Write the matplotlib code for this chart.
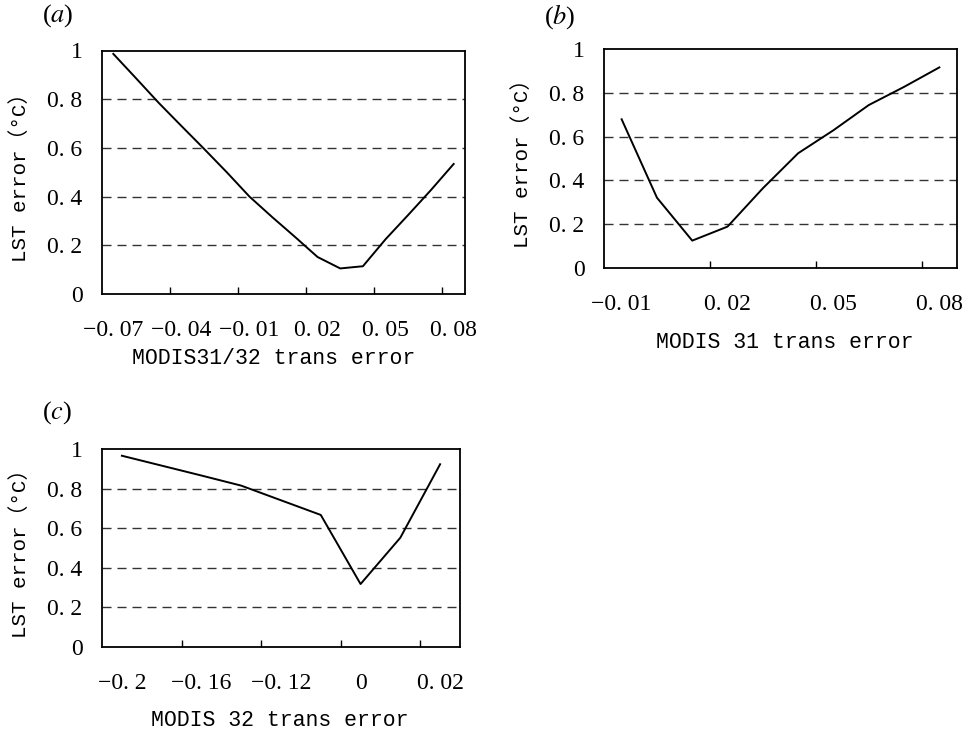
import matplotlib
matplotlib.use('Agg')
import matplotlib.pyplot as plt
import numpy as np

plt.rcParams['mathtext.fontset'] = 'stix'

# panel (a): MODIS31/32 trans error
cats_a = ['-0.07', '-0.06', '-0.05', '-0.04', '-0.03', '-0.02', '-0.01', '0', '0.01',
          '0.02', '0.03', '0.04', '0.05', '0.06', '0.07', '0.08']
err_a = [0.986, 0.886, 0.785, 0.69, 0.596, 0.50, 0.40, 0.316, 0.235, 0.152,
         0.105, 0.114, 0.225, 0.325, 0.427, 0.534]

# panel (b): MODIS 31 trans error
cats_b = ['-0.01', '0', '0.01', '0.02', '0.03', '0.04', '0.05', '0.06', '0.07', '0.08']
err_b = [0.679, 0.321, 0.125, 0.189, 0.364, 0.524, 0.629, 0.744, 0.827, 0.916]

# panel (c): MODIS 32 trans error
cats_c = ['-0.2', '-0.18', '-0.16', '-0.14', '-0.12', '-0.01', '0', '0.01', '0.02']
err_c = [0.966, 0.916, 0.866, 0.815, 0.741, 0.667, 0.318, 0.552, 0.923]

yticks = [0, 0.2, 0.4, 0.6, 0.8, 1.0]
ylabels = ['0', '0.2', '0.4', '0.6', '0.8', '1']

MONO = 'Liberation Mono'
SERIF = 'Liberation Serif'


def fmt(s):
  # wide minus and the gap after the point, as in the original typesetting
  return s.replace('-', '\u2212').replace('.', '. ')


def panel(fig, rect, cats, vals, step, xlabel, xlab_pos, ylab_x):
  ax = fig.add_axes(rect)
  x = np.arange(len(cats))
  ax.plot(x, vals, color='black', linewidth=1.4)
  ax.set_xlim(-0.5, len(cats) - 0.5)
  ax.set_ylim(0, 1)
  for g in yticks[1:-1]:
    ax.axhline(g, color='#333333', linewidth=1.0, linestyle=(0, (6.5, 4.3)), zorder=0)
  ax.set_xticks(x[::step], [fmt(c) for c in cats[::step]])
  ax.set_xticks(np.arange(step - 0.5, len(cats) - 0.5, step), minor=True)
  ax.tick_params(axis='x', which='major', length=0, pad=19)
  ax.tick_params(axis='x', which='minor', direction='in', length=5, width=1.0)
  ax.set_yticks(yticks, [fmt(s) for s in ylabels])
  ax.tick_params(axis='y', length=0, pad=14)
  for lab in ax.get_xticklabels() + ax.get_yticklabels():
    lab.set_fontfamily(SERIF)
    lab.set_fontsize(17)
  for sp in ax.spines.values():
    sp.set_linewidth(1.3)
  ax.text(xlab_pos[0], xlab_pos[1], xlabel, transform=ax.transAxes, ha='center', va='center',
          fontfamily=MONO, fontsize=15.5)
  ax.text(ylab_x, 0.5, 'LST error\uff08\u00b0C\uff09', transform=ax.transAxes, rotation=90,
          ha='center', va='center', fontfamily=[MONO, 'Noto Sans CJK SC'], fontsize=15)
  return ax


fig = plt.figure(figsize=(9.74, 7.32), dpi=100)

panel(fig, [102/974, 1-294/732, 363/974, 243.5/732], cats_a, err_a, 3,
      'MODIS31/32 trans error', (0.474, -0.263), (20-102)/363)
panel(fig, [604/974, 1-268/732, 353/974, 219/732], cats_b, err_b, 3,
      'MODIS 31 trans error', (0.513, -0.338), (522-604)/353)
panel(fig, [102/974, 1-647/732, 358/974, 198/732], cats_c, err_c, 2,
      'MODIS 32 trans error', (0.497, -0.369), (20-102)/358)

fig.text(58/974, 1-16/732, '($\\mathit{a}$)', ha='center', va='center', fontfamily=SERIF, fontsize=19)
fig.text(560/974, 1-17/732, '($\\mathit{b}$)', ha='center', va='center', fontfamily=SERIF, fontsize=19)
fig.text(57/974, 1-413/732, '($\\mathit{c}$)', ha='center', va='center', fontfamily=SERIF, fontsize=19)

fig.savefig('out.png', dpi=100)
